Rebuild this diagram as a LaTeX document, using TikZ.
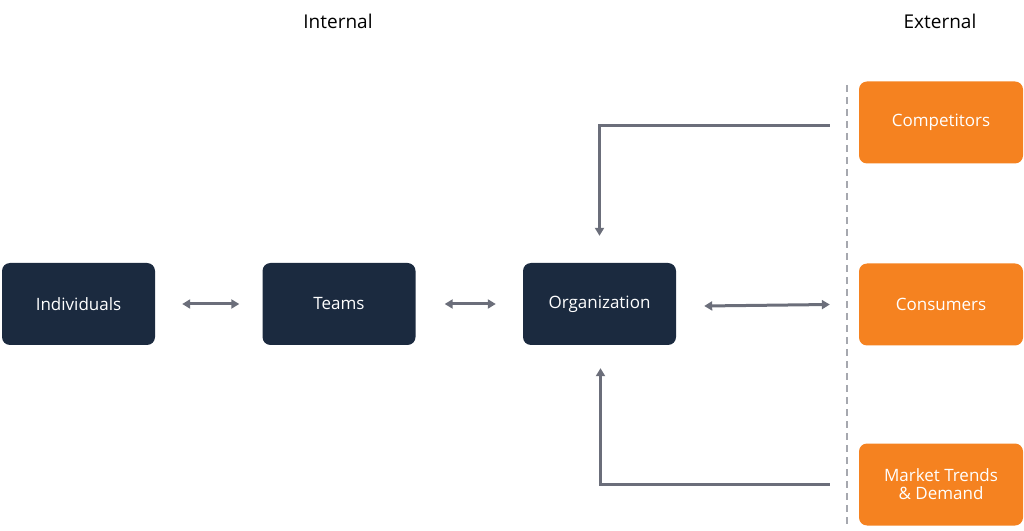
\documentclass[tikz,border=0pt]{standalone}
\usepackage{fontspec}
\setmainfont{Open Sans}
\usetikzlibrary{arrows.meta}
\definecolor{navy}{HTML}{1B2A3F}
\definecolor{orng}{HTML}{F58220}
\definecolor{arr}{HTML}{6B6E7A}
\begin{document}
\begin{tikzpicture}[x=1pt,y=1pt,
  box/.style={rounded corners=8pt,minimum width=153pt,minimum height=82pt,text=white,font=\fontsize{17}{20}\selectfont,align=center,inner sep=0pt},
  int/.style={box,fill=navy},
  ext/.style={box,fill=orng,minimum width=164pt},
  con/.style={draw=arr,line width=3pt,-{Triangle[length=8pt,width=9pt]}},
  bi/.style={con,{Triangle[length=8pt,width=9pt]}-{Triangle[length=8pt,width=9pt]}}]
\useasboundingbox (0,0) rectangle (1024,530);
\node[font=\fontsize{19}{22}\selectfont] (tin) at (338,509) {Internal};
\node[font=\fontsize{19}{22}\selectfont] (tex) at (940,509) {External};
\node[int] (ind) at (78.5,226) {Individuals};
\node[int] (team) at (339,226) {Teams};
\node[int] (org) at (599.5,226) {Organization};
\node[ext] (comp) at (941,407.5) {Competitors};
\node[ext] (cons) at (941,225.5) {Consumers};
\node[ext] (mkt) at (941,45.5) {Market Trends\\[-2pt]\& Demand};
\coordinate (d1) at (847,445);
\coordinate (d2) at (847,5);
\draw[arr!60,line width=1.5pt,dash pattern=on 7pt off 5pt] (d1) -- (d2);
\draw[bi] ([xshift=27pt]ind.east) -- ([xshift=-23pt]team.west);
\draw[bi] ([xshift=29pt]team.east) -- ([xshift=-27pt]org.west);
\draw[bi] ([xshift=28pt,yshift=-2pt]org.east) -- ([xshift=-29pt]cons.west);
\draw[con] ([xshift=-29pt,yshift=-3pt]comp.west) -| ([yshift=27pt]org.north);
\draw[con] ([xshift=-29pt]mkt.west) -| ([xshift=1pt,yshift=-23pt]org.south);
\end{tikzpicture}
\end{document}
